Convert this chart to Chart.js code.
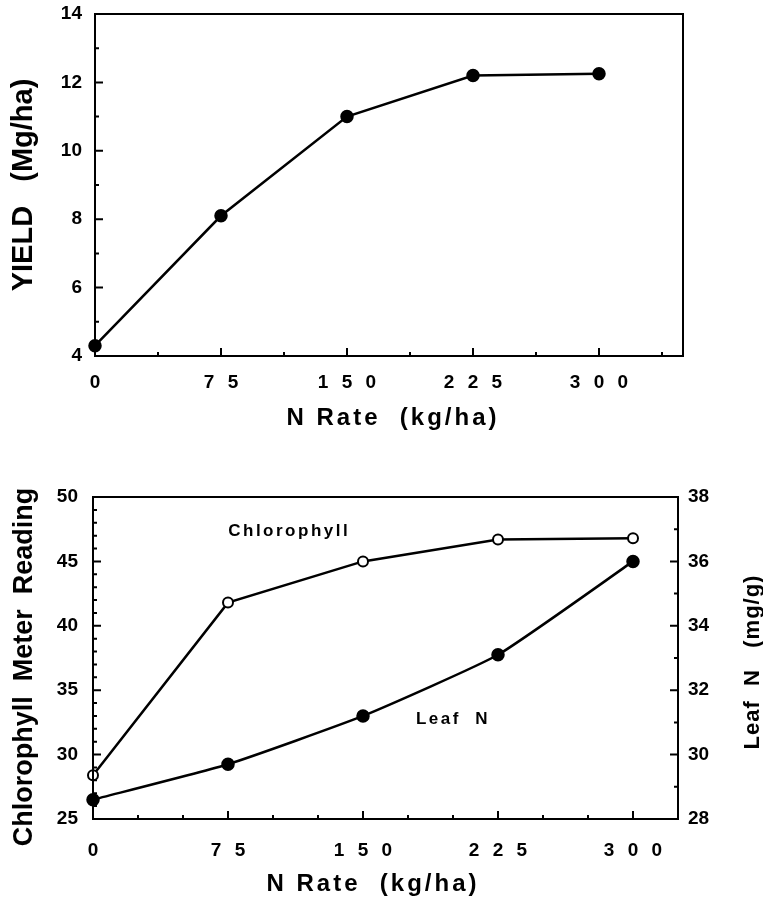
<!DOCTYPE html>
<html>
<head>
<meta charset="utf-8">
<script src="https://cdn.jsdelivr.net/npm/chart.js@4"></script>
<style>
  html, body { margin: 0; padding: 0; background: #fff; overflow: hidden; }
  .box { position: relative; width: 763px; }
  #top { height: 450px; }
  #bottom { height: 456px; }
</style>
</head>
<body>
<div class="box" id="top"><canvas id="yieldChart"></canvas></div>
<div class="box" id="bottom"><canvas id="chloroChart"></canvas></div>
<script>
// data
const nRate = [0, 75, 150, 225, 300];
const yieldMgHa = [4.3, 8.1, 11.0, 12.2, 12.25];
const chlorophyll = [28.4, 41.8, 45.0, 46.7, 46.8];
const leafN = [28.6, 29.7, 31.2, 33.1, 36.0];

const xTickValues = [0, 75, 150, 225, 300];
const yieldTicks = [4, 6, 8, 10, 12, 14];
const chloroTicks = [25, 30, 35, 40, 45, 50];
const leafTicks = [28, 30, 32, 34, 36, 38];

const FONT = "'Liberation Sans', Arial, sans-serif";
const black = '#000';

function pts(xs, ys) {
  return xs.map((x, i) => ({ x: x, y: ys[i] }));
}

// spaced digits like "1 5 0"
function spaced(v) {
  return String(v).split('').join('\u2002\u2009');
}

function fixedTicks(values) {
  return function (scale) {
    scale.ticks = values.map(v => ({ value: v }));
  };
}

function sized(prop, size) {
  return function (s) {
    s[prop] = size;
    s.paddingTop = 0; s.paddingBottom = 0;
    s.paddingLeft = 0; s.paddingRight = 0;
  };
}

// box frame + inward tick marks (major and minor)
function framePlugin(minor) {
  return {
    id: 'frame',
    afterDraw(chart) {
      const ctx = chart.ctx;
      const a = chart.chartArea;
      ctx.save();
      ctx.strokeStyle = black;
      ctx.lineWidth = 2;
      ctx.strokeRect(a.left, a.top, a.right - a.left, a.bottom - a.top);
      ctx.beginPath();
      Object.keys(minor).forEach(id => {
        const s = chart.scales[id];
        if (!s) return;
        const step = minor[id];
        const majors = s.ticks.map(t => t.value);
        for (let v = s.min; v <= s.max + 1e-6; v += step) {
          const len = majors.some(m => Math.abs(m - v) < 1e-6) ? 8 : 4;
          const p = s.getPixelForValue(v);
          if (id === 'x') {
            ctx.moveTo(p, a.bottom); ctx.lineTo(p, a.bottom - len);
          } else if (s.position === 'right') {
            ctx.moveTo(a.right, p); ctx.lineTo(a.right - len, p);
          } else {
            ctx.moveTo(a.left, p); ctx.lineTo(a.left + len, p);
          }
        }
      });
      ctx.stroke();
      ctx.restore();
    }
  };
}

// axis titles and in-plot labels, drawn as canvas text
function textPlugin(items) {
  return {
    id: 'texts',
    afterDraw(chart) {
      const ctx = chart.ctx;
      items.forEach(t => {
        const p = t.at(chart);
        ctx.save();
        ctx.fillStyle = black;
        ctx.font = 'bold ' + t.size + 'px ' + FONT;
        ctx.letterSpacing = (t.spacing || 0) + 'px';
        ctx.textAlign = 'center';
        ctx.textBaseline = t.baseline || 'alphabetic';
        ctx.translate(p[0], p[1]);
        if (t.vertical) ctx.rotate(-Math.PI / 2);
        ctx.fillText(t.text, 0, 0);
        ctx.restore();
      });
    }
  };
}

const tickFont = { family: FONT, size: 19, weight: 'bold' };
const noGrid = { display: false, drawTicks: false };

// ---------- top: yield ----------
new Chart(document.getElementById('yieldChart'), {
  type: 'line',
  data: {
    datasets: [{
      data: pts(nRate, yieldMgHa),
      borderColor: black,
      backgroundColor: black,
      borderWidth: 2.5,
      pointRadius: 5.5,
      pointHoverRadius: 5.5,
      tension: 0,
      clip: false
    }]
  },
  options: {
    responsive: true,
    maintainAspectRatio: false,
    animation: false,
    layout: { padding: { top: 14, right: 80, left: 0, bottom: 0 } },
    plugins: { legend: { display: false }, tooltip: { enabled: false } },
    scales: {
      x: {
        type: 'linear', min: 0, max: 350,
        afterBuildTicks: fixedTicks(xTickValues),
        afterFit: sized('height', 94),
        grid: noGrid, border: { display: false },
        ticks: { color: black, font: tickFont, padding: 15, maxRotation: 0, callback: v => spaced(v) }
      },
      y: {
        min: 4, max: 14,
        afterBuildTicks: fixedTicks(yieldTicks),
        afterFit: sized('width', 95),
        grid: noGrid, border: { display: false },
        ticks: { color: black, font: tickFont, padding: 13 }
      }
    }
  },
  plugins: [
    framePlugin({ x: 37.5, y: 1 }),
    textPlugin([
      { text: 'N Rate  (kg/ha)', size: 24, spacing: 3, at: c => [393, 425] },
      { text: 'YIELD   (Mg/ha)', size: 29, vertical: true,
        at: c => [32, (c.chartArea.top + c.chartArea.bottom) / 2] }
    ])
  ]
});

// ---------- bottom: chlorophyll meter + leaf N ----------
new Chart(document.getElementById('chloroChart'), {
  type: 'line',
  data: {
    datasets: [{
      label: 'Chlorophyll',
      data: pts(nRate, chlorophyll),
      yAxisID: 'y',
      borderColor: black,
      backgroundColor: '#fff',
      borderWidth: 2.5,
      pointRadius: 5,
      pointBorderWidth: 2,
      pointHoverRadius: 5,
      tension: 0,
      clip: false
    }, {
      label: 'Leaf N',
      data: pts(nRate, leafN),
      yAxisID: 'y2',
      borderColor: black,
      backgroundColor: black,
      borderWidth: 2.5,
      pointRadius: 5.5,
      pointHoverRadius: 5.5,
      tension: 0.15,
      clip: false
    }]
  },
  options: {
    responsive: true,
    maintainAspectRatio: false,
    animation: false,
    layout: { padding: { top: 47, right: 0, left: 0, bottom: 0 } },
    plugins: { legend: { display: false }, tooltip: { enabled: false } },
    scales: {
      x: {
        type: 'linear', min: 0, max: 325,
        afterBuildTicks: fixedTicks(xTickValues),
        afterFit: sized('height', 87),
        grid: noGrid, border: { display: false },
        ticks: { color: black, font: tickFont, padding: 20, maxRotation: 0, callback: v => spaced(v) }
      },
      y: {
        position: 'left',
        min: 25, max: 50,
        afterBuildTicks: fixedTicks(chloroTicks),
        afterFit: sized('width', 93),
        grid: noGrid, border: { display: false },
        ticks: { color: black, font: tickFont, padding: 15 }
      },
      y2: {
        position: 'right',
        min: 28, max: 38,
        afterBuildTicks: fixedTicks(leafTicks),
        afterFit: sized('width', 85),
        grid: noGrid, border: { display: false },
        ticks: { color: black, font: tickFont, padding: 10 }
      }
    }
  },
  plugins: [
    framePlugin({ x: 25, y: 1, y2: 1 }),
    textPlugin([
      { text: 'Chlorophyll', size: 17, spacing: 2.5, baseline: 'middle',
        at: c => [c.scales.x.getPixelForValue(109), c.scales.y.getPixelForValue(47.3)] },
      { text: 'Leaf  N', size: 17, spacing: 2.5, baseline: 'middle',
        at: c => [c.scales.x.getPixelForValue(200), c.scales.y2.getPixelForValue(31.1)] },
      { text: 'N Rate  (kg/ha)', size: 24, spacing: 3, at: c => [373, 441] },
      { text: 'Chlorophyll  Meter  Reading', size: 27, vertical: true, at: c => [32, 217] },
      { text: 'Leaf  N   (mg/g)', size: 22, spacing: 1, vertical: true, at: c => [759, 212] }
    ])
  ]
});
</script>
</body>
</html>
